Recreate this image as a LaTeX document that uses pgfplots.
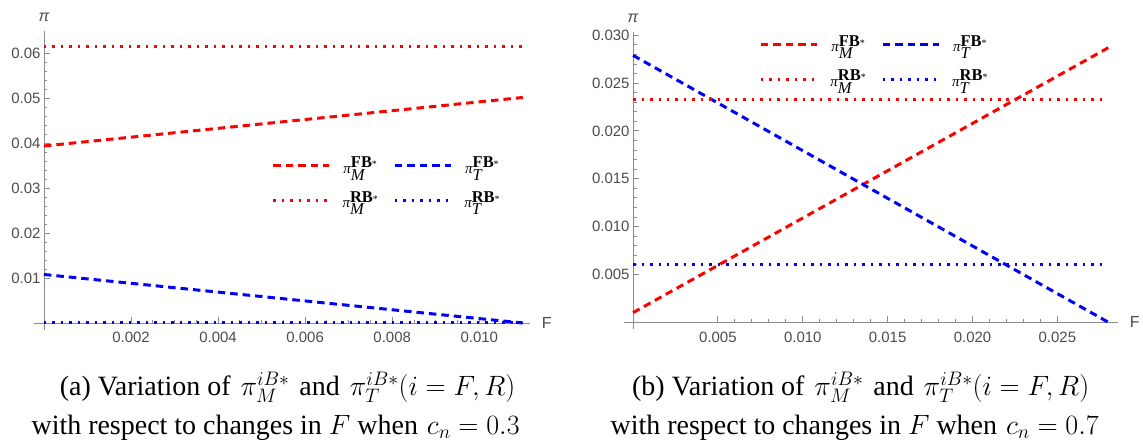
\documentclass[border=0pt]{standalone}
\usepackage{fix-cm}
\usepackage{fontspec}
\setmainfont{Liberation Serif}
\newfontfamily\sansf{Liberation Sans}
\usepackage{graphicx}
\usepackage{pgfplots}
\pgfplotsset{compat=1.18}

\definecolor{mred}{rgb}{1,0,0}
\definecolor{mblue}{rgb}{0,0,1}
\definecolor{axgray}{gray}{0.55}
\definecolor{labgray}{gray}{0.3}

\newcommand{\lgd}[2]{$\mbox{\fontsize{15}{15}\selectfont\itshape π}^{\mbox{\fontsize{16.5}{16.5}\selectfont\bfseries #2}\mbox{\fontsize{10}{10}\selectfont *}}_{\mbox{\fontsize{16.5}{16.5}\selectfont\itshape #1}}$}

\pgfplotsset{
  mstyle/.style={
    axis lines=middle,
    axis line style={-, draw=axgray, line width=0.9pt},
    scale only axis,
    clip=false,
    scaled ticks=false,
    tick align=inside,
    major tick length=6pt,
    minor tick length=3.5pt,
    every tick/.style={draw=axgray, line width=0.9pt},
    tick label style={font=\fontsize{15}{15}\selectfont\sansf, text=labgray},
    xticklabel style={yshift=-6pt},
    xlabel={F}, ylabel={\itshape π},
    every axis x label/.style={at={(current axis.right of origin)}, anchor=west, xshift=8pt, font=\fontsize{16}{16}\selectfont\sansf, text=labgray},
    every axis y label/.style={at={(current axis.above origin)}, anchor=south, yshift=5pt, font=\fontsize{16}{16}\selectfont\sansf, text=labgray},
    legend columns=2,
    legend image code/.code={\draw[##1] (0pt,0pt) -- (56pt,0pt);},
    legend style={draw=none, fill=none, inner sep=0pt, outer sep=0pt, anchor=west,
      row sep=17pt, font=\fontsize{15}{15}\selectfont, nodes={inner sep=0pt},
      /tikz/every odd column/.append style={column sep=12pt},
      /tikz/every even column/.append style={column sep=15pt}},
  },
  fbdash/.style={line width=3pt, dash pattern=on 7.5pt off 5pt},
  rbdot/.style={line width=3pt, dash pattern=on 2.5pt off 6pt},
}

\begin{document}
\begin{tikzpicture}
\path (0pt,0pt) rectangle (1143pt,445pt);

% Left panel (c_n = 0.3)
\begin{axis}[mstyle,
  at={(34pt,114pt)}, anchor=south west,
  width=497pt, height=300.3pt,
  xmin=-0.00023, xmax=0.01117, ymin=-0.00167, ymax=0.06507,
  xtick={0.002,0.004,0.006,0.008,0.010},
  xticklabels={0.002,0.004,0.006,0.008,0.010},
  ytick={0.01,0.02,0.03,0.04,0.05,0.06},
  yticklabels={0.01,0.02,0.03,0.04,0.05,0.06},
  minor x tick num=3, minor y tick num=4,
  legend style={at={(axis cs:0.00523,0.0311)}},
]
\addplot[mred, fbdash] coordinates {(0,0.0394) (0.011,0.0502)};
\addlegendentry{\lgd{M}{FB}}
\addplot[mblue, fbdash] coordinates {(0,0.0108) (0.011,0)};
\addlegendentry{\lgd{T}{FB}}
\addplot[mred, rbdot] coordinates {(0,0.0616) (0.011,0.0616)};
\addlegendentry{\lgd{M}{RB}}
\addplot[mblue, rbdot] coordinates {(0,0.0002) (0.011,0.0002)};
\addlegendentry{\lgd{T}{RB}}
\end{axis}

% Right panel (c_n = 0.7)
\begin{axis}[mstyle,
  at={(625pt,115.5pt)}, anchor=south west,
  width=495pt, height=297.8pt,
  xmin=-0.00053, xmax=0.02859, ymin=-0.00071, ymax=0.03038,
  xtick={0.005,0.010,0.015,0.020,0.025},
  xticklabels={0.005,0.010,0.015,0.020,0.025},
  ytick={0.005,0.010,0.015,0.020,0.025,0.030},
  yticklabels={0.005,0.010,0.015,0.020,0.025,0.030},
  minor x tick num=4, minor y tick num=4,
  legend style={at={(axis cs:0.00745,0.02724)}},
]
\addplot[mred, fbdash] coordinates {(0,0.001) (0.028,0.0287)};
\addlegendentry{\lgd{M}{FB}}
\addplot[mblue, fbdash] coordinates {(0,0.0279) (0.028,0)};
\addlegendentry{\lgd{T}{FB}}
\addplot[mred, rbdot] coordinates {(0,0.02325) (0.028,0.02325)};
\addlegendentry{\lgd{M}{RB}}
\addplot[mblue, rbdot] coordinates {(0,0.006) (0.028,0.006)};
\addlegendentry{\lgd{T}{RB}}
\end{axis}

% Captions
\node[anchor=base] at (288pt,49pt) {\fontsize{28}{28}\selectfont (a) Variation of\hspace{10pt}$\pi_M^{iB*}$\hspace{10pt}and\hspace{10pt}$\pi_T^{iB*}(i=F,R)$};
\node[anchor=base] at (276pt,10pt) {\fontsize{28}{28}\selectfont with respect to changes in $F$ when\hspace{9pt}$c_n=0.3$};
\node[anchor=base] at (862pt,49pt) {\fontsize{28}{28}\selectfont (b) Variation of\hspace{10pt}$\pi_M^{iB*}$\hspace{10pt}and\hspace{10pt}$\pi_T^{iB*}(i=F,R)$};
\node[anchor=base] at (856pt,10pt) {\fontsize{28}{28}\selectfont with respect to changes in $F$ when\hspace{9pt}$c_n=0.7$};
\end{tikzpicture}
\end{document}
